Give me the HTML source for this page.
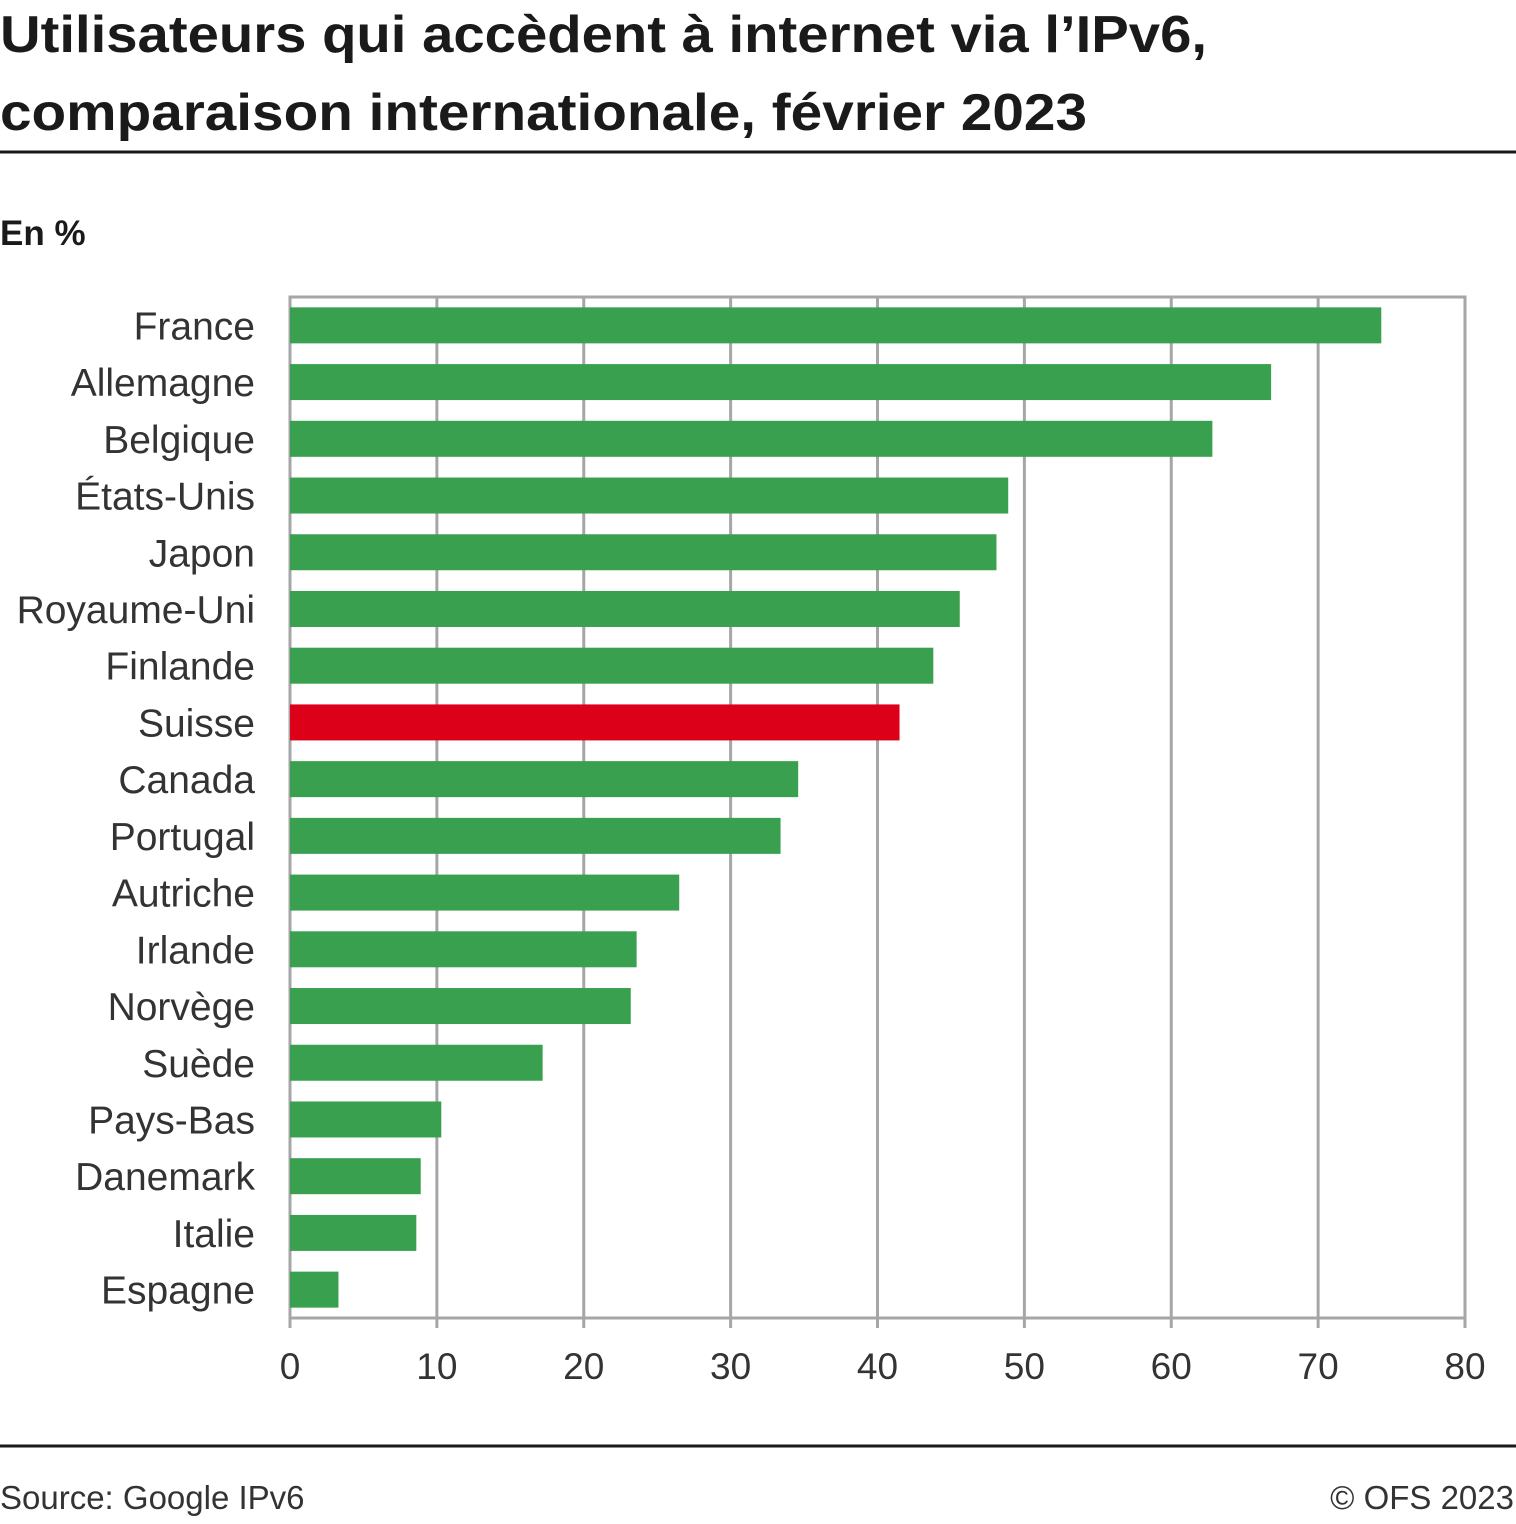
<!DOCTYPE html>
<html><head><meta charset="utf-8"><style>
body{margin:0;background:#fff;font-family:"Liberation Sans",sans-serif;}
#c{position:relative;width:1516px;height:1519px;}
</style></head><body>
<div id="c">
<svg width="1516" height="1519" id="svg">
<text x="0" y="52" font-size="52" font-weight="bold" fill="#1a1a1a" textLength="1207" lengthAdjust="spacingAndGlyphs">Utilisateurs qui accèdent à internet via l’IPv6,</text>
<text x="0" y="130" font-size="52" font-weight="bold" fill="#1a1a1a" textLength="1087" lengthAdjust="spacingAndGlyphs">comparaison internationale, février 2023</text>
<line x1="0" y1="152" x2="1516" y2="152" stroke="#1a1a1a" stroke-width="3"/>
<text x="0" y="245" font-size="35" font-weight="bold" fill="#1a1a1a">En %</text>
<g id="grid"></g><g id="bars"></g><g id="labels"></g><g id="ticks"></g>
<line x1="0" y1="1446" x2="1516" y2="1446" stroke="#1a1a1a" stroke-width="3"/>
<text x="0" y="1509" font-size="33" fill="#333">Source: Google IPv6</text>
<text x="1514" y="1509" font-size="33" fill="#333" text-anchor="end">© OFS 2023</text>
</svg></div>
<script>
const categories=["France","Allemagne","Belgique","États-Unis","Japon","Royaume-Uni","Finlande","Suisse","Canada","Portugal","Autriche","Irlande","Norvège","Suède","Pays-Bas","Danemark","Italie","Espagne"];
const values=[74.3,66.8,62.8,48.9,48.1,45.6,43.8,41.5,34.6,33.4,26.5,23.6,23.2,17.2,10.3,8.9,8.6,3.3];
const highlight=["Suisse"];
const xTicks=[0,10,20,30,40,50,60,70,80];
const NS="http://www.w3.org/2000/svg";
const x0=290,x1=1465,yTop=297,yBot=1318,xMax=80;
const xs=v=>x0+(x1-x0)*v/xMax;
const step=(yBot-yTop)/categories.length;
const yc=i=>yTop+step*(i+0.5);
function mk(t,a,p){const e=document.createElementNS(NS,t);for(const k in a)e.setAttribute(k,a[k]);document.getElementById(p).appendChild(e);return e;}
const g=mk("rect",{x:x0,y:yTop,width:x1-x0,height:yBot-yTop,fill:"none",stroke:"#a6a6a6","stroke-width":3},"grid");


xTicks.forEach(t=>{
 const l=mk("line",{x1:xs(t),x2:xs(t),y1:yTop,y2:yBot+10,stroke:"#a6a6a6","stroke-width":3},"grid");
 
 
 const tx=mk("text",{x:xs(t),y:1379,"font-size":37,fill:"#333","text-anchor":"middle"},"ticks");
 tx.textContent=t;
 
 
});
categories.forEach((c,i)=>{
 const b=mk("rect",{x:x0,y:yc(i)-18,width:xs(values[i])-x0,height:36,fill:highlight.includes(c)?"#dc0018":"#38a04f"},"bars");
 
 
 const t=mk("text",{x:255,y:yc(i)+14,"font-size":39,fill:"#333","text-anchor":"end"},"labels");
 t.textContent=c;
 
 
});
</script>
</body></html>
